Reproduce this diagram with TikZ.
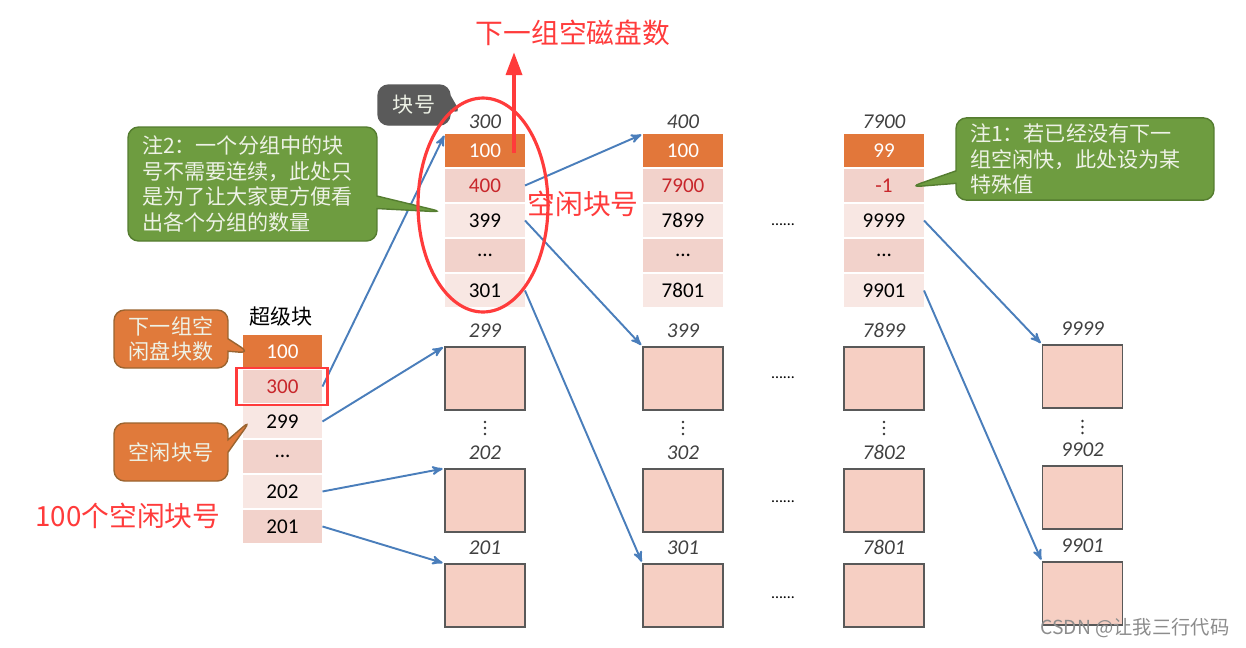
\documentclass[tikz,border=0pt]{standalone}
\usepackage{fontspec}
\setmainfont{Carlito}
\newfontfamily\cjk{Noto Sans CJK SC}
\usetikzlibrary{arrows,arrows.meta,positioning,shapes.callouts}
\definecolor{cellOrange}{HTML}{E2773A}
\definecolor{pinkDark}{HTML}{F2D2CB}
\definecolor{pinkLight}{HTML}{F8E7E3}
\definecolor{blockPink}{HTML}{F6CFC3}
\definecolor{linkBlue}{HTML}{4A7EBB}
\definecolor{markRed}{HTML}{FF3B3B}
\definecolor{numRed}{HTML}{C8262B}
\definecolor{noteGreen}{HTML}{6E9C40}
\definecolor{noteGreenEdge}{HTML}{557D30}
\definecolor{noteOrange}{HTML}{E07A3B}
\definecolor{noteOrangeEdge}{HTML}{9A6430}
\definecolor{noteGray}{HTML}{5A5A5A}
\definecolor{noteText}{HTML}{EEF2E6}
\tikzset{
    >=stealth',
    cell/.style={
           rectangle,
           inner sep=0pt, outer sep=0pt,
           minimum width=1.6cm,
           minimum height=0.66cm,
           font=\fontsize{12}{12}\selectfont},
    headCell/.style={cell, fill=cellOrange, text=white},
    darkCell/.style={cell, fill=pinkDark},
    lightCell/.style={cell, fill=pinkLight},
    freeBlock/.style={
           rectangle,
           draw=black!65, line width=0.7pt,
           fill=blockPink,
           minimum width=1.6cm,
           minimum height=1.26cm},
    blockNum/.style={
           inner sep=0pt,
           text=black!75,
           font=\fontsize{12}{12}\selectfont\itshape},
    hdotsMark/.style={inner sep=0pt, font=\small},
    note/.style={
           rectangle callout,
           rounded corners=6pt,
           line width=0.8pt,
           text=noteText,
           font=\cjk\fontsize{12}{14.5}\selectfont},
    greenNote/.style={note, fill=noteGreen, draw=noteGreenEdge, align=left},
    orangeNote/.style={note, fill=noteOrange, draw=noteOrangeEdge, align=center,
           minimum width=2.28cm, minimum height=1.16cm},
    grayNote/.style={note, fill=noteGray, draw=noteGray,
           minimum width=1.44cm, minimum height=0.8cm},
    redText/.style={text=markRed, font=\cjk\fontsize{15.8}{18}\selectfont},
    redLine/.style={draw=markRed, line width=1.6pt},
    pil/.style={
           ->,
           draw=linkBlue,
           line width=1.1pt,
           shorten >=1pt}
}

\begin{document}
\begin{tikzpicture}[x=0.02cm, y=-0.02cm]
	\useasboundingbox (0,0) rectangle (1246,647);
	% super block
	\node[font=\cjk\fontsize{12}{14}\selectfont] (superTitle) at (281,316) {超级块};
	\node[headCell] (sup100) at (282.5,351.5) {100};
	\node[darkCell, text=numRed, below=0.04cm of sup100] (sup300) {300};
	\node[lightCell, below=0.04cm of sup300] (sup299) {299};
	\node[darkCell, below=0.04cm of sup299] (supDots) {...};
	\node[lightCell, below=0.04cm of supDots] (sup202) {202};
	\node[darkCell, below=0.04cm of sup202] (sup201) {201};
	% group tables
	\node[headCell] (t300a) at (485,150.5) {100};
	\node[darkCell, text=numRed, below=0.04cm of t300a] (t300b) {400};
	\node[lightCell, below=0.04cm of t300b] (t300c) {399};
	\node[darkCell, below=0.04cm of t300c] (t300d) {...};
	\node[lightCell, below=0.04cm of t300d] (t300e) {301};
	\node[blockNum, above=0.11cm of t300a] (num300) {300};
	\node[headCell] (t400a) at (683,150.5) {100};
	\node[darkCell, text=numRed, below=0.04cm of t400a] (t400b) {7900};
	\node[lightCell, below=0.04cm of t400b] (t400c) {7899};
	\node[darkCell, below=0.04cm of t400c] (t400d) {...};
	\node[lightCell, below=0.04cm of t400d] (t400e) {7801};
	\node[blockNum, above=0.11cm of t400a] (num400) {400};
	\node[headCell] (t7900a) at (884,150.5) {99};
	\node[darkCell, text=numRed, below=0.04cm of t7900a] (t7900b) {-1};
	\node[lightCell, below=0.04cm of t7900b] (t7900c) {9999};
	\node[darkCell, below=0.04cm of t7900c] (t7900d) {...};
	\node[lightCell, below=0.04cm of t7900d] (t7900e) {9901};
	\node[blockNum, above=0.11cm of t7900a] (num7900) {7900};
	% free blocks
	\node[freeBlock] (blk299) at (485,378.5) {};
	\node[freeBlock] (blk202) at (485,500.5) {};
	\node[freeBlock] (blk201) at (485,595.5) {};
	\node[freeBlock] (blk399) at (683,378.5) {};
	\node[freeBlock] (blk302) at (683,500.5) {};
	\node[freeBlock] (blk301) at (683,595.5) {};
	\node[freeBlock] (blk7899) at (884,378.5) {};
	\node[freeBlock] (blk7802) at (884,500.5) {};
	\node[freeBlock] (blk7801) at (884,595.5) {};
	\node[freeBlock] (blk9999) at (1082.5,376.5) {};
	\node[freeBlock] (blk9902) at (1082.5,497.5) {};
	\node[freeBlock] (blk9901) at (1082.5,593.5) {};
	\node[blockNum, above=0.17cm of blk299] (num299) {299};
	\node[blockNum, above=0.17cm of blk202] (num202) {202};
	\node[blockNum, above=0.17cm of blk201] (num201) {201};
	\node[blockNum, above=0.17cm of blk399] (num399) {399};
	\node[blockNum, above=0.17cm of blk302] (num302) {302};
	\node[blockNum, above=0.17cm of blk301] (num301) {301};
	\node[blockNum, above=0.17cm of blk7899] (num7899) {7899};
	\node[blockNum, above=0.17cm of blk7802] (num7802) {7802};
	\node[blockNum, above=0.17cm of blk7801] (num7801) {7801};
	\node[blockNum, above=0.17cm of blk9999] (num9999) {9999};
	\node[blockNum, above=0.17cm of blk9902] (num9902) {9902};
	\node[blockNum, above=0.17cm of blk9901] (num9901) {9901};
	% vertical dots between blocks
	\foreach \cx/\cy in {485/428, 683/428, 884/428, 1082.5/427}
	    \foreach \k in {-6,0,6}
	        \fill[black!80] (\cx,\cy+\k) circle (0.75pt);
	\node[hdotsMark] (hd1) at (783,225) {......};
	\node[hdotsMark] (hd2) at (783,378) {......};
	\node[hdotsMark] (hd3) at (783,502) {......};
	\node[hdotsMark] (hd4) at (783,598) {......};
	% links
	\draw[pil] (sup300.east) -- (t300a.north west);
	\draw[pil] (sup299.east) -- (blk299.north west);
	\draw[pil] (sup202.east) -- (blk202.north west);
	\draw[pil] (sup201.east) -- (blk201.north west);
	\draw[pil] (t300b.east) -- (t400a.north west);
	\draw[pil] (t300c.east) -- (blk399.north west);
	\draw[pil] (t300e.east) -- (blk301.north west);
	\draw[pil] (t7900c.east) -- (blk9999.north west);
	\draw[pil] (t7900e.east) -- (blk9901.north west);
	% notes
	\node[grayNote, callout absolute pointer={(461,115)}] (noteNum) at (414,105) {块号};
	\node[greenNote, text width=4.42cm, inner xsep=0.28cm, minimum height=2.28cm,
	      callout absolute pointer={(443,212)}] (note2) at (252.5,184)
	      {注2：一个分组中的块\\号不需要连续，此处只\\是为了让大家更方便看\\出各个分组的数量};
	\node[greenNote, text width=4.6cm, inner xsep=0.28cm, minimum height=1.56cm,
	      callout absolute pointer={(910,187)}] (note1) at (1085,159)
	      {注1：若已经没有下一\\组空闲快，此处设为某\\特殊值};
	\node[orangeNote, callout absolute pointer={(250,353)}] (noteCount) at (171,339) {下一组空\\闲盘块数};
	\node[orangeNote, callout absolute pointer={(251,420)}] (noteFree) at (171,452) {空闲块号};
	% red marks
	\draw[redLine] ([shift={(-6,2)}]sup300.south west) rectangle ([shift={(5,-2)}]sup300.north east);
	\draw[redLine, line width=1.8pt] (483,205) ellipse [x radius=1.3cm, y radius=2.14cm];
	\node[redText] (nextTitle) at (573,33) {下一组空磁盘数};
	\node[redText] (freeTitle) at (583,204) {空闲块号};
	\node[redText] (countTitle) at (128,516) {100个空闲块号};
	\coordinate (upStart) at (514,153);
	\draw[draw=markRed, line width=2.2pt, -{Triangle[length=13pt, width=9pt]}]
	      (upStart) -- (upStart |- nextTitle.south);
	\node[text=black!45, font=\cjk\fontsize{11}{12}\selectfont] (mark) at (1135,628) {CSDN @让我三行代码};
\end{tikzpicture}
\end{document}
